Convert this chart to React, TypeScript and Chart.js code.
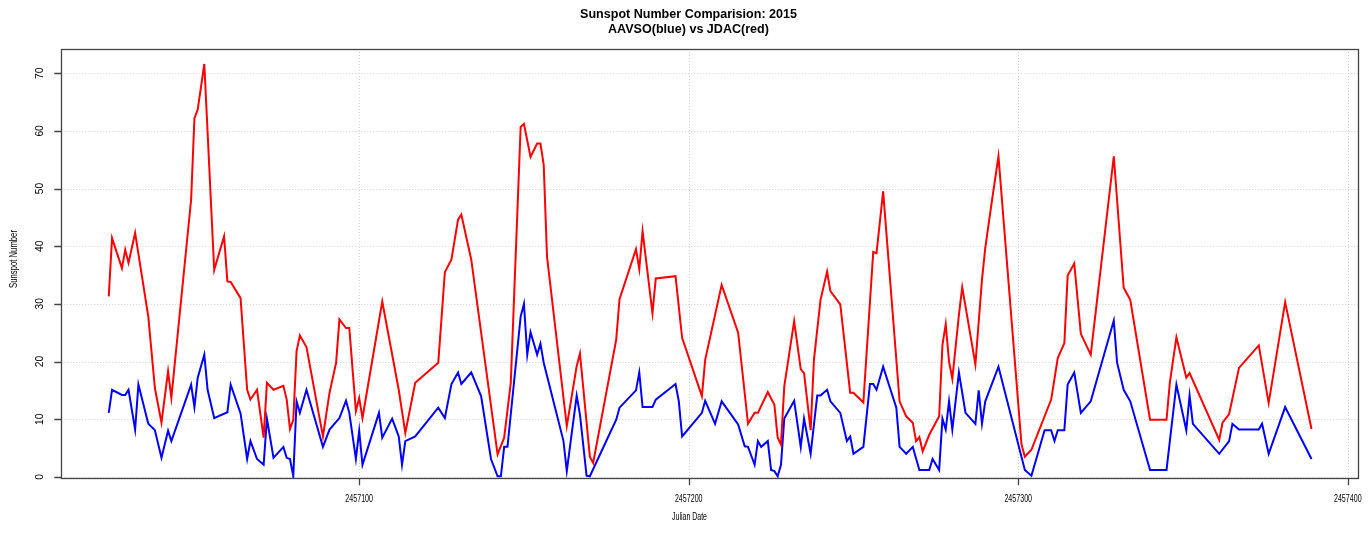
import React, { useEffect, useRef } from "react";
import { Chart, registerables } from "chart.js";

Chart.register(...registerables);

const JD_BASE = 2457000;

const redDays = [
  24, 25, 28, 29, 30, 32, 36, 38, 40, 42,
  43, 49, 50, 51, 53, 56, 59, 60, 61, 64,
  66, 67, 69, 71, 72, 74, 77, 78, 79, 80,
  81, 82, 84, 89, 91, 93, 94, 96, 97, 99,
  100, 101, 107, 112, 114, 117, 124, 126, 128, 130,
  131, 134, 142, 144, 146, 149, 150, 152, 154, 155,
  156, 157, 163, 166, 167, 170, 171, 178, 179, 184,
  185, 186, 189, 190, 196, 198, 204, 205, 210, 215,
  218, 220, 221, 224, 226, 227, 228, 229, 232, 234,
  235, 237, 238, 240, 242, 243, 246, 249, 250, 253,
  256, 257, 259, 264, 266, 268, 269, 270, 271, 273,
  276, 277, 278, 279, 280, 282, 283, 287, 289, 290,
  292, 294, 301, 302, 304, 310, 312, 314, 315, 317,
  319, 322, 329, 332, 334, 340, 345, 346, 348, 351,
  352, 361, 362, 364, 367, 373, 376, 381, 389,
];
const redValues = [
  31.3, 41.4, 36.2, 39.4, 37.1, 42.3, 27.8, 15.4, 9.4, 18.3,
  13.7, 48.1, 62.2, 63.7, 71.6, 35.9, 41.7, 33.9, 33.8, 31.0,
  15.1, 13.4, 15.1, 6.8, 16.3, 15.1, 15.8, 13.4, 8.3, 9.9,
  21.8, 24.5, 22.5, 7.0, 14.6, 19.8, 27.3, 25.8, 25.8, 11.4,
  13.7, 10.2, 30.4, 15.1, 7.6, 16.3, 19.8, 35.5, 37.7, 44.6,
  45.5, 37.7, 3.9, 6.8, 16.3, 60.7, 61.2, 55.5, 57.8, 57.8,
  54.1, 38.2, 8.8, 19.2, 21.4, 3.5, 2.4, 23.8, 30.8, 39.5,
  36.0, 42.6, 28.4, 34.4, 34.8, 24.1, 14.0, 20.3, 33.3, 25.0,
  9.2, 11.1, 11.1, 14.7, 12.5, 6.8, 5.6, 15.7, 27.0, 18.7,
  18.0, 8.1, 20.3, 30.7, 35.6, 32.2, 29.9, 14.6, 14.6, 12.9,
  39.0, 38.8, 49.5, 13.1, 10.5, 9.4, 6.2, 6.9, 4.4, 7.3,
  10.5, 22.9, 26.5, 20.0, 17.0, 28.1, 32.9, 19.5, 34.2, 39.7,
  47.8, 55.6, 5.6, 3.5, 4.7, 13.4, 20.6, 23.2, 34.9, 37.0,
  24.8, 21.2, 55.6, 32.8, 30.7, 9.9, 9.9, 16.3, 24.2, 17.2,
  18.0, 6.4, 9.4, 10.9, 18.9, 22.8, 12.8, 30.3, 8.3,
];

const blueDays = [
  24, 25, 28, 29, 30, 32, 33, 36, 38, 40,
  42, 43, 49, 50, 51, 53, 54, 56, 60, 61,
  64, 66, 67, 69, 71, 72, 74, 77, 78, 79,
  80, 81, 82, 84, 89, 91, 94, 96, 97, 99,
  100, 101, 106, 107, 110, 112, 113, 114, 117, 124,
  126, 128, 130, 131, 134, 137, 140, 142, 143, 144,
  145, 149, 150, 151, 152, 154, 155, 156, 162, 163,
  166, 167, 169, 170, 178, 179, 184, 185, 186, 189,
  190, 196, 197, 198, 204, 205, 208, 210, 215, 217,
  218, 220, 221, 222, 224, 225, 226, 227, 228, 229,
  232, 234, 235, 237, 239, 240, 242, 243, 246, 248,
  249, 250, 253, 255, 256, 257, 259, 263, 264, 266,
  268, 270, 273, 274, 276, 277, 278, 279, 280, 282,
  284, 287, 288, 289, 290, 294, 302, 304, 308, 310,
  311, 312, 314, 315, 317, 319, 322, 329, 330, 332,
  334, 340, 345, 348, 351, 352, 353, 361, 364, 365,
  367, 373, 374, 376, 381, 389,
];
const blueValues = [
  11.1, 15.1, 14.2, 14.2, 15.1, 8.2, 16.0, 9.2, 8.1, 3.3,
  8.0, 6.2, 16.0, 12.1, 17.2, 21.2, 15.1, 10.2, 11.2, 16.0,
  11.0, 3.1, 6.2, 3.1, 2.1, 10.1, 3.3, 5.2, 3.3, 3.1,
  0.1, 13.1, 11.1, 15.1, 5.2, 8.2, 10.2, 13.2, 11.1, 3.1,
  8.0, 2.1, 11.1, 6.8, 10.1, 7.0, 2.1, 6.2, 7.0, 12.0,
  10.2, 16.1, 18.1, 16.1, 18.1, 14.0, 3.1, 0.1, 0.1, 5.2,
  5.2, 27.8, 30.0, 21.2, 25.1, 21.2, 23.1, 19.8, 6.2, 1.0,
  14.1, 10.8, 0.2, 0.1, 9.9, 12.0, 15.0, 18.1, 12.1, 12.1,
  13.4, 16.1, 13.1, 7.0, 11.1, 13.2, 9.2, 13.1, 9.1, 5.3,
  5.2, 2.1, 6.2, 5.2, 6.2, 1.2, 1.0, 0.1, 2.1, 10.1,
  13.2, 5.2, 10.1, 4.0, 14.1, 14.1, 15.1, 13.1, 11.1, 6.2,
  7.0, 4.0, 5.2, 16.1, 16.1, 15.1, 19.1, 12.0, 5.2, 4.0,
  5.2, 1.2, 1.2, 3.1, 1.2, 10.1, 8.2, 13.1, 8.2, 18.1,
  11.1, 9.2, 15.0, 9.2, 13.1, 19.1, 1.2, 0.2, 8.1, 8.1,
  6.2, 8.1, 8.1, 16.0, 18.1, 11.1, 13.1, 27.1, 19.8, 15.1,
  13.1, 1.2, 1.2, 16.0, 8.1, 14.1, 9.2, 4.0, 6.2, 9.2,
  8.2, 8.2, 9.2, 4.0, 12.1, 3.1,
];

const xTickValues = [2457100, 2457200, 2457300, 2457400];
const yTickValues = [0, 10, 20, 30, 40, 50, 60, 70];
const titleLines = ["Sunspot Number Comparision: 2015", "AAVSO(blue) vs JDAC(red)"];
const xAxisTitle = "Julian Date";
const yAxisTitle = "Sunspot Number";

const W = 1369;
const H = 534;

function drawText(
  ctx: CanvasRenderingContext2D,
  text: string,
  x: number,
  y: number,
  font: string,
  sx: number,
  rot = 0
) {
  ctx.save();
  ctx.translate(x, y);
  if (rot) ctx.rotate(rot);
  ctx.scale(sx, 1);
  ctx.font = font;
  ctx.textAlign = "center";
  ctx.textBaseline = "middle";
  ctx.fillStyle = "#000";
  ctx.fillText(text, 0, 0);
  ctx.restore();
}

const rPlotPlugin = {
  id: "rplot",
  beforeDatasetsDraw(chart: any) {
    const { ctx, chartArea: a, scales } = chart;
    const x = scales.x;
    const y = scales.y;
    ctx.save();
    ctx.strokeStyle = "#d3d3d3";
    ctx.lineWidth = 1;
    ctx.setLineDash([1, 2]);
    for (const v of yTickValues) {
      const py = Math.round(y.getPixelForValue(v)) + 0.5;
      ctx.beginPath();
      ctx.moveTo(a.left, py);
      ctx.lineTo(a.right, py);
      ctx.stroke();
    }
    for (const v of xTickValues) {
      const px = Math.round(x.getPixelForValue(v)) + 0.5;
      ctx.beginPath();
      ctx.moveTo(px, a.top);
      ctx.lineTo(px, a.bottom);
      ctx.stroke();
    }
    ctx.restore();
  },
  afterDraw(chart: any) {
    const { ctx, chartArea: a, scales } = chart;
    const x = scales.x;
    const y = scales.y;
    ctx.save();
    ctx.setLineDash([]);
    ctx.strokeStyle = "#444";
    ctx.lineWidth = 1.3;
    ctx.strokeRect(Math.round(a.left) + 0.5, Math.round(a.top) + 0.5, Math.round(a.right - a.left), Math.round(a.bottom - a.top));
    // ticks
    ctx.beginPath();
    for (const v of xTickValues) {
      const px = Math.round(x.getPixelForValue(v)) + 0.5;
      ctx.moveTo(px, a.bottom);
      ctx.lineTo(px, a.bottom + 7);
    }
    for (const v of yTickValues) {
      const py = Math.round(y.getPixelForValue(v)) + 0.5;
      ctx.moveTo(a.left, py);
      ctx.lineTo(a.left - 7, py);
    }
    ctx.stroke();
    ctx.restore();

    const smallFont = "10.3px 'Liberation Sans', Arial, sans-serif";
    for (const v of xTickValues) {
      drawText(ctx, String(v), x.getPixelForValue(v), 499, smallFont, 0.69);
    }
    for (const v of yTickValues) {
      drawText(ctx, String(v), 40.5, y.getPixelForValue(v), smallFont, 1.0, -Math.PI / 2);
    }
    drawText(ctx, xAxisTitle, 689.5, 516.7, smallFont, 0.68);
    drawText(ctx, yAxisTitle, 14.3, 259, smallFont, 0.75, -Math.PI / 2);

    const titleFont = "bold 13.5px 'Liberation Sans', Arial, sans-serif";
    drawText(ctx, titleLines[0], 688.5, 14, titleFont, 0.93);
    drawText(ctx, titleLines[1], 688.5, 29, titleFont, 0.93);
  },
};

export default function App() {
  const canvasRef = useRef<HTMLCanvasElement | null>(null);

  useEffect(() => {
    document.body.style.margin = "0";
    const canvas = canvasRef.current;
    if (!canvas) return;
    const chart = new Chart(canvas, {
      type: "line",
      data: {
        datasets: [
          {
            label: "JDAC",
            data: redDays.map((d, i) => ({ x: JD_BASE + d, y: redValues[i] })),
            borderColor: "#ff0000",
            backgroundColor: "#ff0000",
            borderWidth: 2,
            pointRadius: 0,
            tension: 0,
            fill: false,
          },
          {
            label: "AAVSO",
            data: blueDays.map((d, i) => ({ x: JD_BASE + d, y: blueValues[i] })),
            borderColor: "#0000ff",
            backgroundColor: "#0000ff",
            borderWidth: 2,
            pointRadius: 0,
            tension: 0,
            fill: false,
          },
        ],
      },
      options: {
        responsive: false,
        animation: false,
        devicePixelRatio: 1,
        events: [],
        layout: {
          padding: { left: 61.3, top: 49, right: W - 1358.3, bottom: H - 478.3 },
        },
        plugins: {
          legend: { display: false },
          tooltip: { enabled: false },
          title: { display: false },
        },
        scales: {
          x: { type: "linear", min: 2457009.6, max: 2457403.2, display: false },
          y: { type: "linear", min: -0.25, max: 74.2, display: false },
        },
      },
      plugins: [rPlotPlugin],
    } as any);
    return () => chart.destroy();
  }, []);

  return (
    <canvas
      ref={canvasRef}
      width={W}
      height={H}
      style={{ display: "block", width: W, height: H }}
    />
  );
}
